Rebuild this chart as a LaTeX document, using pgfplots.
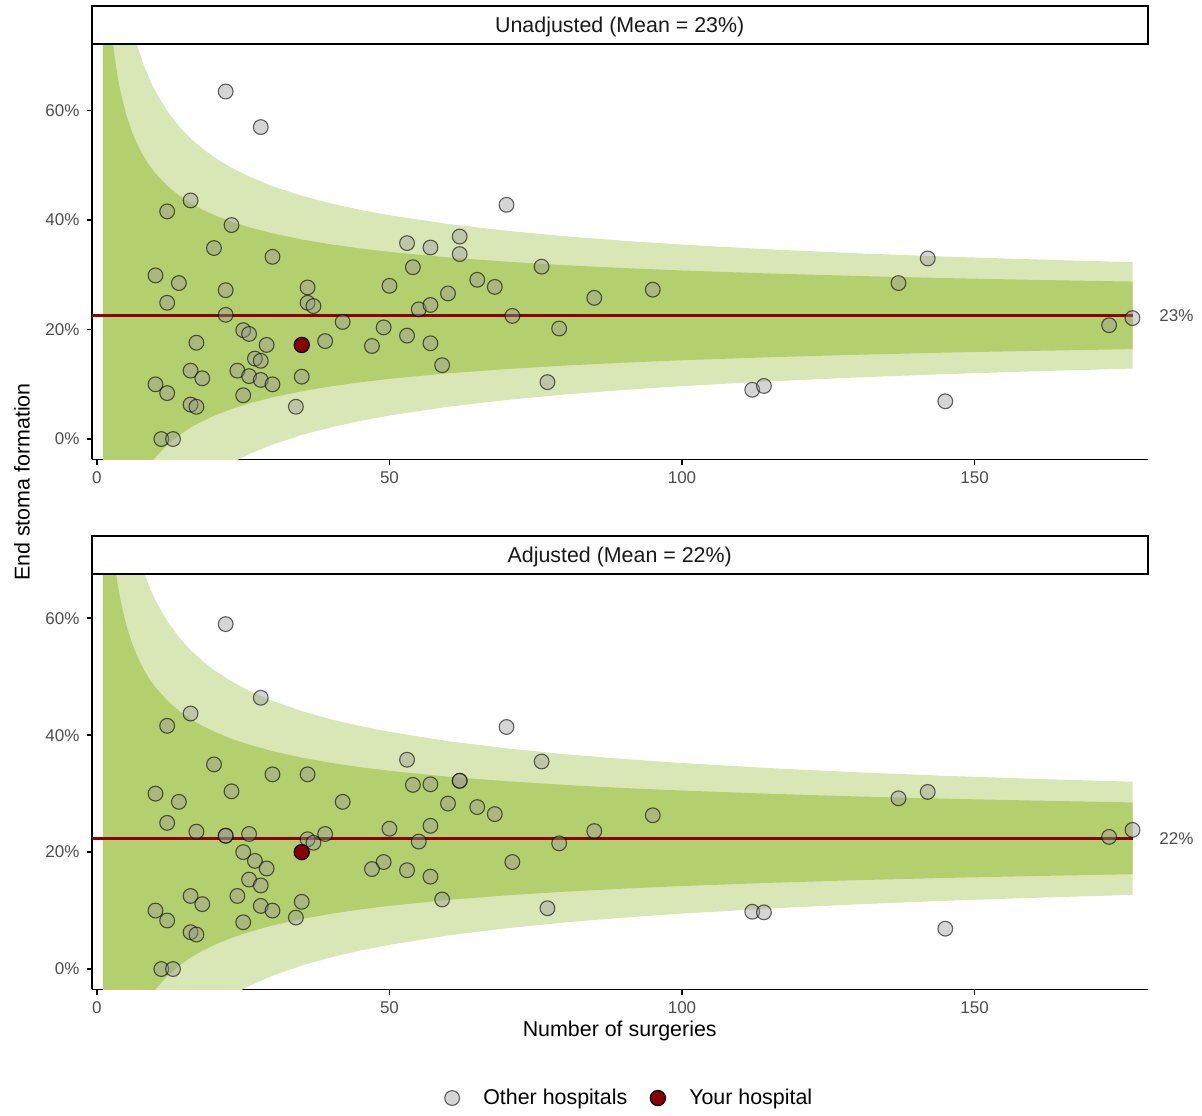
\documentclass[border=0pt]{standalone}
\usepackage{pgfplots}
\pgfplotsset{compat=1.18}
\usepackage{pgfplotstable}
\usepgfplotslibrary{fillbetween}
\usepackage{fontspec}
\setmainfont{Liberation Sans}
\definecolor{bandlight}{HTML}{D9E7B7}
\definecolor{banddark}{HTML}{B4D06E}
\definecolor{meanred}{HTML}{8B0000}
\definecolor{ptfill}{HTML}{969696}
\definecolor{ticktext}{HTML}{4D4D4D}

\pgfplotstableread{
n U2 L2 U1 L1
1 151.94 -106.74 104.64 -59.44
1.5 128.21 -83.01 89.59 -44.39
2 114.06 -68.86 80.61 -35.41
2.5 104.40 -59.20 74.49 -29.29
3 97.27 -52.07 69.97 -24.77
3.5 91.74 -46.54 66.45 -21.25
4 87.27 -42.07 63.62 -18.42
5 80.44 -35.24 59.29 -14.09
6 75.40 -30.20 56.09 -10.89
7 71.48 -26.28 53.61 -8.41
8 68.33 -23.13 51.61 -6.41
9 65.71 -20.51 49.95 -4.75
10 63.50 -18.30 48.54 -3.34
12 59.94 -14.74 46.28 -1.08
14 57.17 -11.97 44.53 0.67
16 54.94 -9.74 43.11 2.09
18 53.09 -7.89 41.94 3.26
20 51.52 -6.32 40.94 4.26
23 49.57 -4.37 39.71 5.49
26 47.97 -2.77 38.69 6.51
30 46.21 -1.01 37.58 7.62
35 44.46 0.74 36.47 8.73
40 43.05 2.15 35.57 9.63
45 41.88 3.32 34.83 10.37
50 40.89 4.31 34.20 11.00
60 39.30 5.90 33.19 12.01
70 38.06 7.14 32.41 12.79
80 37.06 8.14 31.77 13.43
90 36.23 8.97 31.25 13.95
100 35.53 9.67 30.80 14.40
115 34.66 10.54 30.25 14.95
130 33.94 11.26 29.80 15.40
145 33.34 11.86 29.41 15.79
160 32.83 12.37 29.09 16.11
177 32.32 12.88 28.77 16.43
}\bandtop

\pgfplotstableread{
n U2 L2 U1 L1
1 151.11 -106.39 104.03 -59.31
1.5 127.49 -82.77 89.05 -44.33
2 113.40 -68.68 80.11 -35.39
2.5 103.79 -59.07 74.01 -29.29
3 96.69 -51.97 69.51 -24.79
3.5 91.18 -46.46 66.01 -21.29
4 86.74 -42.02 63.20 -18.48
5 79.94 -35.22 58.88 -14.16
6 74.92 -30.20 55.70 -10.98
7 71.02 -26.30 53.23 -8.51
8 67.88 -23.16 51.24 -6.52
9 65.28 -20.56 49.58 -4.86
10 63.07 -18.35 48.19 -3.47
12 59.53 -14.81 45.94 -1.22
14 56.77 -12.05 44.19 0.53
16 54.55 -9.83 42.78 1.94
18 52.71 -7.99 41.61 3.11
20 51.15 -6.43 40.62 4.10
23 49.21 -4.49 39.39 5.33
26 47.61 -2.89 38.38 6.34
30 45.87 -1.15 37.27 7.45
35 44.12 0.60 36.16 8.56
40 42.72 2.00 35.27 9.45
45 41.55 3.17 34.53 10.19
50 40.57 4.15 33.91 10.81
60 38.98 5.74 32.90 11.82
70 37.75 6.97 32.12 12.60
80 36.75 7.97 31.49 13.23
90 35.93 8.79 30.97 13.75
100 35.24 9.48 30.53 14.19
115 34.37 10.35 29.98 14.74
130 33.65 11.07 29.52 15.20
145 33.05 11.67 29.14 15.58
160 32.54 12.18 28.82 15.90
177 32.04 12.68 28.50 16.22
}\bandbot

\pgfplotstableread{
n y
22 63.5
28 57.0
16 43.6
12 41.6
23 39.1
20 34.9
30 33.3
10 29.9
14 28.5
22 27.2
36 27.7
12 24.9
36 24.9
37 24.3
22 22.7
50 28.0
53 35.8
54 31.4
55 23.7
42 21.4
25 19.9
26 19.2
49 20.4
53 18.9
17 17.6
29 17.2
39 17.9
47 17.0
27 14.7
28 14.3
16 12.5
18 11.1
24 12.5
26 11.5
28 10.8
30 10.0
35 11.4
10 10.0
12 8.4
25 8.0
16 6.3
17 5.9
34 5.9
11 0
13 0
70 42.8
57 35.0
62 37.0
62 33.8
76 31.5
65 29.1
68 27.8
60 26.6
95 27.3
85 25.8
57 24.5
71 22.5
79 20.2
57 17.5
59 13.5
77 10.4
112 9.0
114 9.7
142 33.0
137 28.5
173 20.8
177 22.1
145 6.9
}\ptstop

\pgfplotstableread{
n y
22 59.0
28 46.4
16 43.7
12 41.6
20 35.0
30 33.3
36 33.3
23 30.4
10 30.0
14 28.6
42 28.6
12 25.0
17 23.5
22 22.8
22 22.8
26 23.1
36 22.2
37 21.6
39 23.1
50 24.0
53 35.8
54 31.5
55 21.8
25 20.0
27 18.5
29 17.2
49 18.3
47 17.1
53 16.9
26 15.3
28 14.3
16 12.5
18 11.1
24 12.5
28 10.8
30 10.0
35 11.5
34 8.8
10 10.0
12 8.3
25 8.0
16 6.3
17 5.9
11 0
13 0
70 41.4
76 35.5
57 31.6
62 32.2
62 32.2
60 28.3
65 27.7
68 26.5
95 26.3
57 24.5
85 23.6
79 21.5
71 18.3
57 15.8
59 11.9
77 10.4
112 9.8
114 9.7
142 30.3
137 29.2
173 22.6
177 23.8
145 6.9
}\ptsbot

\pgfplotsset{
  funnel/.style={
    scale only axis, width=528pt, height=207.15pt,
    xmin=-0.9, xmax=179.6,
    axis x line*=bottom, axis y line*=left,
    axis line style={-, line width=0.8pt, black},
    tick align=outside, major tick length=2.6pt,
    tick style={black, line width=0.8pt},
    xtick={0,50,100,150}, xticklabels={0,50,100,150},
    ytick={0,20,40,60}, yticklabels={0\%,20\%,40\%,60\%},
    ticklabel style={font=\fontsize{8.5}{10}\selectfont, text=ticktext},
    /pgf/number format/assume math mode=true,
    every axis title shift=0pt,
    title style={at={(0.5,1)}, anchor=south, draw=black, line width=0.8pt,
      minimum width=528pt, minimum height=19pt, inner sep=0pt,
      text height=0.716em, text depth=0pt,
      font=\fontsize{10.7}{12.8}\selectfont, text=black!90},
  },
  other/.style={only marks, mark=*, mark size=3.7pt,
    mark options={fill=ptfill, fill opacity=0.4, draw=black, draw opacity=0.6, line width=0.55pt}},
  mine/.style={only marks, mark=*, mark size=3.8pt,
    mark options={fill=meanred, draw=black, line width=0.6pt}},
}

\begin{document}
\begin{tikzpicture}

\begin{axis}[funnel, at={(45.85pt,-229.65pt)}, anchor=south west,
  ymin=-3.7, ymax=72.0, title={Unadjusted (Mean = 23\%)}]
  \addplot[draw=none, name path=u2, forget plot] table[x=n,y=U2]{\bandtop};
  \addplot[draw=none, name path=l2, forget plot] table[x=n,y=L2]{\bandtop};
  \addplot[bandlight, draw=none, forget plot] fill between[of=u2 and l2];
  \addplot[draw=none, name path=u1, forget plot] table[x=n,y=U1]{\bandtop};
  \addplot[draw=none, name path=l1, forget plot] table[x=n,y=L1]{\bandtop};
  \addplot[banddark, draw=none, forget plot] fill between[of=u1 and l1];
  \addplot[meanred, line width=1.6pt, forget plot] coordinates {(-0.9,22.6) (177,22.6)};
  \addplot[other] table[x=n,y=y]{\ptstop};
  \addplot[mine] coordinates {(35,17.2)};
\end{axis}

\begin{axis}[funnel, at={(45.85pt,-494.65pt)}, anchor=south west,
  ymin=-3.47, ymax=67.4, title={Adjusted (Mean = 22\%)},
  legend columns=2,
  legend style={draw=none, fill=none, at={(0.5102,-0.2624)}, anchor=center,
    font=\fontsize{10.7}{12.8}\selectfont,
    /tikz/every odd column/.append style={column sep=9.9pt},
    /tikz/every even column/.append style={column sep=9.5pt}}]
  \addplot[draw=none, name path=bu2, forget plot] table[x=n,y=U2]{\bandbot};
  \addplot[draw=none, name path=bl2, forget plot] table[x=n,y=L2]{\bandbot};
  \addplot[bandlight, draw=none, forget plot] fill between[of=bu2 and bl2];
  \addplot[draw=none, name path=bu1, forget plot] table[x=n,y=U1]{\bandbot};
  \addplot[draw=none, name path=bl1, forget plot] table[x=n,y=L1]{\bandbot};
  \addplot[banddark, draw=none, forget plot] fill between[of=bu1 and bl1];
  \addplot[meanred, line width=1.6pt, forget plot] coordinates {(-0.9,22.36) (177,22.36)};
  \addplot[other] table[x=n,y=y]{\ptsbot};
  \addlegendentry{Other hospitals}
  \addplot[mine] coordinates {(35,20.0)};
  \addlegendentry{Your hospital}
\end{axis}

\node[anchor=west, text=ticktext, font=\fontsize{8.5}{10}\selectfont, inner sep=0pt] at (579.5pt,-157.68pt) {23\%};
\node[anchor=west, text=ticktext, font=\fontsize{8.5}{10}\selectfont, inner sep=0pt] at (579.5pt,-419.15pt) {22\%};
\node[rotate=90, font=\fontsize{10.7}{12.8}\selectfont] at (11pt,-241pt) {End stoma formation};
\node[font=\fontsize{10.7}{12.8}\selectfont] at (309.85pt,-515.5pt) {Number of surgeries};
\path (0,0) rectangle (601pt,-556.5pt);
\end{tikzpicture}
\end{document}
